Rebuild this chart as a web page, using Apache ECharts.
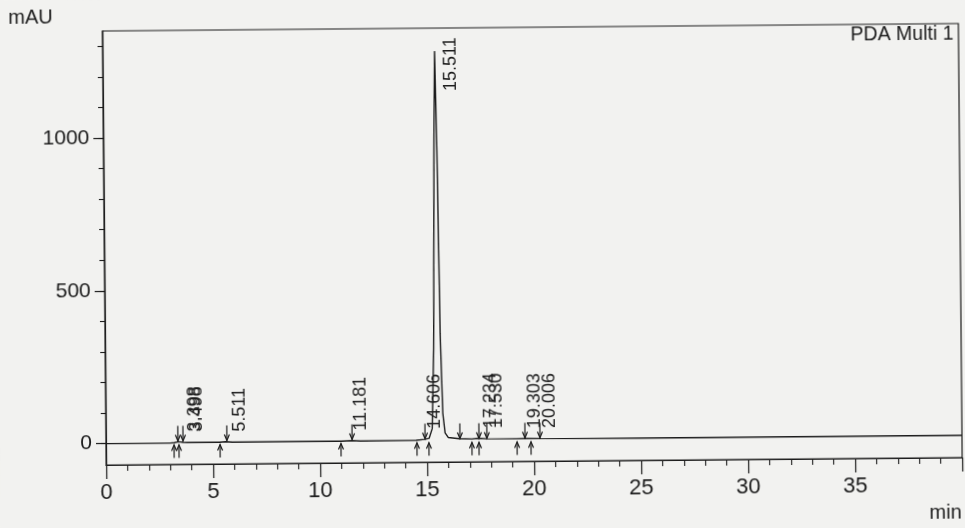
<!DOCTYPE html>
<html>
<head>
<meta charset="utf-8">
<script src="https://cdn.jsdelivr.net/npm/echarts@6/dist/echarts.min.js"></script>
<style>
  html, body { margin: 0; padding: 0; background: #f2f2f0; overflow: hidden; }
  #chart { width: 965px; height: 540px; transform-origin: 106px 443px; transform: rotate(-0.5deg); }
</style>
</head>
<body>
<div id="chart"></div>
<script>
// ---- data ----
const times  = [0, 3.0, 3.2, 3.4, 3.6, 3.8, 5.3, 5.6, 5.9, 11.0, 11.5, 11.9, 14.5, 14.9, 15.1, 15.25, 15.35, 15.45, 15.51, 15.58, 15.66, 15.75, 15.85, 16.0, 16.5, 17.1, 17.4, 17.8, 19.2, 19.6, 20.3, 25, 30, 35, 40];
const signal = [0, 0, 1, 4, 2, 1, 1, 3, 1, 1, 3, 1, 2, 5, 8, 40, 300, 1000, 1275, 950, 350, 90, 25, 10, 6, 5, 7, 5, 4, 5, 4, 3, 3, 3, 3];

const peakLabels  = ['3.398', '3.498', '5.511', '11.181', '14.606', '15.511', '17.234', '17.530', '19.303', '20.006'];
const peakTimes   = [3.398, 3.498, 5.511, 11.181, 14.606, 15.511, 17.234, 17.530, 19.303, 20.006];
const peakHeights = [4, 4, 3, 3, 6, 1275, 7, 7, 5, 5];

const apexMarks  = [3.36, 3.60, 5.65, 11.50, 14.91, 16.54, 17.43, 17.80, 19.58, 20.28];
const boundMarks = [3.18, 3.41, 5.33, 10.98, 14.53, 15.09, 17.10, 17.43, 19.21, 19.86];

const xTickLabels  = [0, 5, 10, 15, 20, 25, 30, 35];
const yMajorTicks  = [0, 500, 1000];
const yMinorTicks  = [0, 100, 200, 300, 400, 500, 600, 700, 800, 900, 1000, 1100, 1200, 1300];

// ---- chart ----
const ink = '#1c1c1c';
const fontFam = '"Liberation Sans", Arial, sans-serif';
const chart = echarts.init(document.getElementById('chart'), null, { renderer: 'canvas' });

const line = times.map((t, i) => [t, signal[i]]);

function arrowItem(down) {
  return function (params, api) {
    const p = api.coord([api.value(0), 0]);
    const x = p[0], y = p[1];
    const style = { stroke: ink, lineWidth: 1.2, fill: null };
    let pts, head;
    if (down) {
      pts = [[x, y - 17], [x, y - 2]];
      head = [[x - 2.5, y - 8], [x, y - 2], [x + 2.5, y - 8]];
    } else {
      pts = [[x, y + 15], [x, y + 2]];
      head = [[x - 2.5, y + 8], [x, y + 2], [x + 2.5, y + 8]];
    }
    return {
      type: 'group',
      children: [
        { type: 'polyline', shape: { points: pts }, style: style },
        { type: 'polyline', shape: { points: head }, style: style }
      ]
    };
  };
}

const labelData = peakTimes.map((t, i) => [t, peakHeights[i], peakLabels[i]]);

const option = {
  animation: false,
  backgroundColor: '#f2f2f0',
  grid: { left: 106, right: 3, top: 31, bottom: 75, show: true, borderColor: ink, borderWidth: 1.2, backgroundColor: 'transparent' },
  xAxis: [{
    type: 'value', min: 0, max: 40, interval: 5, position: 'bottom',
    axisLine: { show: true, onZero: false, lineStyle: { color: ink, width: 1.2 } },
    axisTick: { show: true, length: 14, lineStyle: { color: ink, width: 1.2 } },
    minorTick: { show: true, splitNumber: 5, length: 6, lineStyle: { color: ink, width: 1.1 } },
    axisLabel: { show: true, margin: 17, fontSize: 22, fontFamily: fontFam, color: ink,
      formatter: function (v) { return xTickLabels.indexOf(v) >= 0 ? String(v) : ''; } },
    splitLine: { show: false }
  }],
  yAxis: [{
    type: 'value', min: -70, max: 1350, position: 'left',
    axisLine: { show: true, onZero: false, lineStyle: { color: ink, width: 1.2 } },
    axisTick: { show: true, length: 10, customValues: yMajorTicks, lineStyle: { color: ink, width: 1.2 } },
    axisLabel: { show: true, margin: 14, fontSize: 21, fontFamily: fontFam, color: ink, customValues: yMajorTicks,
      formatter: function (v) { return String(v); } },
    splitLine: { show: false }
  }, {
    type: 'value', min: -70, max: 1350, position: 'left',
    axisLine: { show: false },
    axisTick: { show: true, length: 5, customValues: yMinorTicks, lineStyle: { color: ink, width: 1.1 } },
    axisLabel: { show: false },
    splitLine: { show: false }
  }],
  graphic: [
    { type: 'text', left: 12, top: 7, style: { text: 'mAU', fontSize: 20, fontFamily: fontFam, fill: ink } },
    { type: 'text', right: 8, top: 32, style: { text: 'PDA Multi 1', fontSize: 19.5, fontFamily: fontFam, fill: ink } },
    { type: 'text', right: 4, top: 510, style: { text: 'min', fontSize: 20, fontFamily: fontFam, fill: ink } }
  ],
  series: [
    {
      type: 'line', data: line, showSymbol: false, symbol: 'none',
      lineStyle: { color: ink, width: 1.4 }, xAxisIndex: 0, yAxisIndex: 0, z: 3
    },
    {
      type: 'custom', data: apexMarks.map(t => [t]), renderItem: arrowItem(true),
      xAxisIndex: 0, yAxisIndex: 0, z: 4, silent: true
    },
    {
      type: 'custom', data: boundMarks.map(t => [t]), renderItem: arrowItem(false),
      xAxisIndex: 0, yAxisIndex: 0, z: 4, silent: true
    },
    {
      type: 'custom', data: labelData, xAxisIndex: 0, yAxisIndex: 0, z: 5, silent: true,
      renderItem: function (params, api) {
        const p = api.coord([api.value(0), api.value(1)]);
        const txt = labelData[params.dataIndex][2];
        const top = params.coordSys.y;
        let bottom = p[1] - 10;
        const minBottom = top + 6 + 57;
        if (bottom < minBottom) bottom = minBottom;
        return {
          type: 'text',
          x: p[0] + 16, y: bottom,
          rotation: Math.PI / 2,
          style: { text: txt, fontSize: 18, fontFamily: fontFam, fill: ink, align: 'left', verticalAlign: 'middle' }
        };
      }
    }
  ]
};
chart.setOption(option);
</script>
</body>
</html>
